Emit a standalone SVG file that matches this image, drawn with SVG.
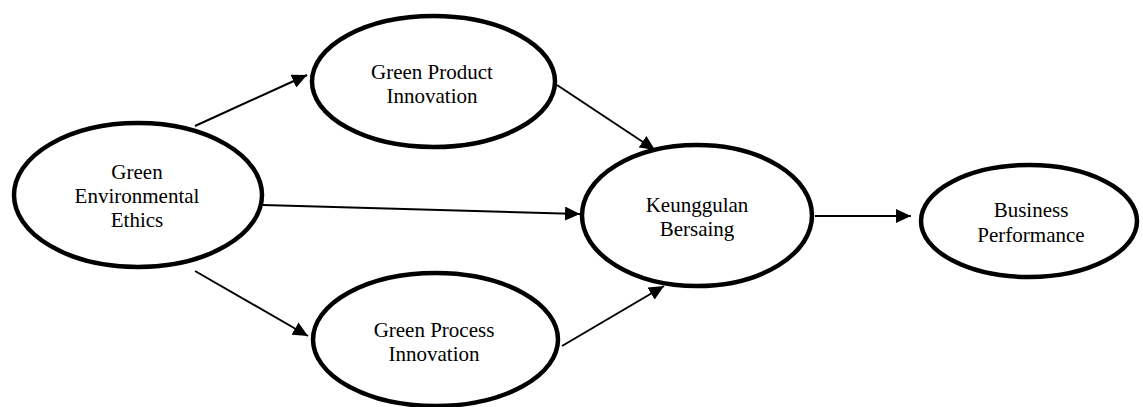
<svg xmlns="http://www.w3.org/2000/svg" width="1143" height="407" viewBox="0 0 1143 407">
<style>
.n ellipse{fill:#fff;stroke:#000;stroke-width:4.5}
.n text{font-family:"Liberation Serif","Times New Roman",serif;font-size:21px;fill:#000;text-anchor:middle}
.c line{stroke:#000;stroke-width:2;marker-end:url(#ah)}
</style>
<defs>
<marker id="ah" markerUnits="userSpaceOnUse" markerWidth="15" markerHeight="14" refX="15" refY="7" orient="auto">
<path d="M0,0 L15,7 L0,14 z" fill="#000"/>
</marker>
</defs>
<rect width="1143" height="407" fill="#fff"/>
<g class="c" id="connectors">
<line x1="195" y1="126" x2="307" y2="75"/>
<line x1="195" y1="271" x2="308" y2="336"/>
<line x1="263" y1="205" x2="580" y2="214"/>
<line x1="557" y1="85" x2="655" y2="150"/>
<line x1="562" y1="346" x2="664" y2="286"/>
<line x1="815" y1="216" x2="911" y2="216"/>
</g>
<g class="n" id="gee">
<ellipse cx="138" cy="195" rx="124" ry="72"/>
<text x="137" y="179">Green</text>
<text x="137" y="203">Environmental</text>
<text x="137" y="227">Ethics</text>
</g>
<g class="n" id="gpi">
<ellipse cx="433.5" cy="81.5" rx="121.5" ry="65.5"/>
<text x="432" y="79">Green Product</text>
<text x="432" y="103">Innovation</text>
</g>
<g class="n" id="gpri">
<ellipse cx="435.5" cy="339.5" rx="122.5" ry="66.5"/>
<text x="434" y="337">Green Process</text>
<text x="434" y="361">Innovation</text>
</g>
<g class="n" id="kb">
<ellipse cx="697" cy="215.5" rx="115" ry="70.5"/>
<text x="697" y="212">Keunggulan</text>
<text x="697" y="236">Bersaing</text>
</g>
<g class="n" id="bp">
<ellipse cx="1029" cy="221" rx="108" ry="56"/>
<text x="1031" y="217">Business</text>
<text x="1031" y="242">Performance</text>
</g>
</svg>
